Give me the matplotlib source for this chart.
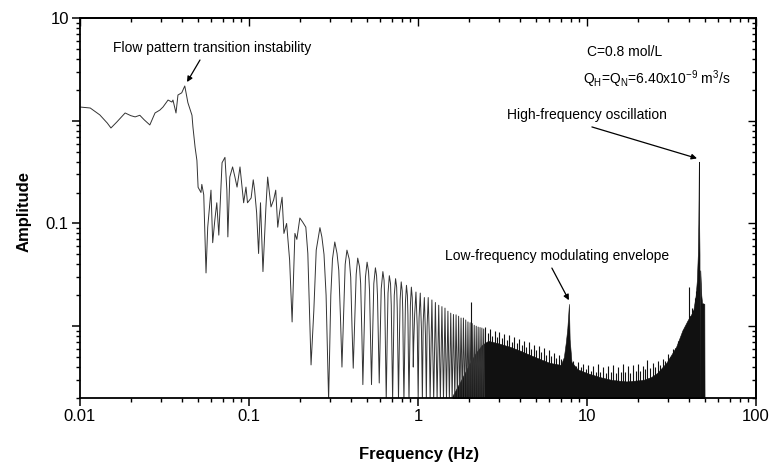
#!/usr/bin/env python3
"""Amplitude spectrum of the flow signal (log-log), Origin-style."""
import matplotlib
matplotlib.use("Agg")
import matplotlib.pyplot as plt
from matplotlib.ticker import NullFormatter, FixedFormatter, FixedLocator

# trace: low-frequency part (0.01 - 0.23 Hz)
low_freq = [
    0.0100, 0.0115, 0.0131, 0.0145, 0.01525, 0.0165, 0.0185, 0.0200, 0.0212, 0.0226,
    0.0240, 0.0259, 0.0278, 0.0297, 0.0310, 0.0332, 0.0350, 0.0355, 0.0370, 0.0380,
    0.0400, 0.0417, 0.0435, 0.0460, 0.0466, 0.0480, 0.0492, 0.0500, 0.0520, 0.0526,
    0.0540, 0.0557, 0.0570, 0.0596, 0.0610, 0.0628, 0.0645, 0.0663, 0.0693, 0.0721,
    0.0740, 0.0750, 0.0770, 0.0800, 0.0826, 0.0850, 0.0885, 0.0930, 0.0960, 0.0980,
    0.1030, 0.1060, 0.1080, 0.1110, 0.1140, 0.1170, 0.1210, 0.1260, 0.1290, 0.1350,
    0.1400, 0.1440, 0.1480, 0.1520, 0.1570, 0.1610, 0.1670, 0.1740, 0.1800, 0.1870,
    0.1920, 0.2000, 0.2080, 0.2170, 0.2230,
]
low_amp = [
    1.36, 1.33, 1.14, 0.95, 0.85, 0.97, 1.19, 1.12, 1.09, 1.13,
    1.02, 0.91, 1.19, 1.27, 1.36, 1.59, 1.52, 1.59, 1.19, 1.78,
    1.87, 2.18, 1.50, 1.13, 0.87, 0.55, 0.41, 0.225, 0.20, 0.24,
    0.19, 0.033, 0.092, 0.211, 0.065, 0.108, 0.159, 0.077, 0.39, 0.44,
    0.211, 0.074, 0.283, 0.355, 0.283, 0.226, 0.355, 0.159, 0.226, 0.159,
    0.177, 0.266, 0.211, 0.127, 0.051, 0.159, 0.034, 0.145, 0.283, 0.145,
    0.170, 0.211, 0.092, 0.130, 0.180, 0.080, 0.100, 0.044, 0.011, 0.080,
    0.070, 0.113, 0.103, 0.092, 0.051,
]

# resolved comb lobes (0.23 - 2.5 Hz), one lobe per row: dip, rise, peak, fall
lobe_freq = [
    0.233, 0.242, 0.250, 0.263, 0.270, 0.278, 0.286,
    0.296, 0.305, 0.312, 0.322, 0.332, 0.340, 0.348,
    0.355, 0.364, 0.371, 0.380, 0.392, 0.400, 0.407,
    0.414, 0.423, 0.431, 0.440, 0.451, 0.458, 0.466,
    0.472, 0.481, 0.489, 0.500, 0.510, 0.517, 0.525,
    0.531, 0.540, 0.548, 0.560, 0.569, 0.576, 0.584,
    0.590, 0.598, 0.606, 0.620, 0.630, 0.636, 0.643,
    0.649, 0.657, 0.665, 0.677, 0.688, 0.695, 0.702,
    0.708, 0.716, 0.724, 0.737, 0.748, 0.754, 0.761,
    0.767, 0.775, 0.784, 0.796, 0.807, 0.813, 0.820,
    0.826, 0.834, 0.843, 0.855, 0.866, 0.872, 0.879,
    0.885, 0.893, 0.902, 0.914, 0.925, 0.931, 0.938,
    0.944, 0.956, 0.973, 0.990,
    1.003, 1.015, 1.032, 1.049,
    1.062, 1.074, 1.091, 1.108,
    1.121, 1.133, 1.150, 1.167,
    1.180, 1.209, 1.239, 1.268, 1.298, 1.327, 1.357, 1.386, 1.416, 1.445,
    1.475, 1.504, 1.534, 1.563, 1.593, 1.622, 1.652, 1.681, 1.711, 1.740,
    1.770, 1.799, 1.829, 1.858, 1.888, 1.917, 1.947, 1.976, 2.006, 2.035,
    2.064, 2.094, 2.123, 2.153, 2.182, 2.212, 2.241, 2.271, 2.300, 2.330,
    2.359, 2.389, 2.418, 2.448, 2.477,
]
lobe_amp = [
    0.0042, 0.0142, 0.055, 0.091, 0.074, 0.050, 0.020,
    0.0019, 0.020, 0.045, 0.066, 0.051, 0.035, 0.012,
    0.0040, 0.015, 0.040, 0.055, 0.045, 0.030, 0.010,
    0.0039, 0.012, 0.032, 0.046, 0.038, 0.026, 0.008,
    0.0027, 0.010, 0.030, 0.042, 0.034, 0.022, 0.007,
    0.0027, 0.009, 0.026, 0.037, 0.031, 0.020, 0.006,
    0.0028, 0.008, 0.023, 0.034, 0.028, 0.018, 0.005,
    0.0019, 0.007, 0.021, 0.031, 0.026, 0.016, 0.005,
    0.0019, 0.006, 0.020, 0.029, 0.024, 0.015, 0.005,
    0.0019, 0.006, 0.018, 0.027, 0.022, 0.014, 0.004,
    0.0019, 0.005, 0.017, 0.025, 0.020, 0.013, 0.004,
    0.0019, 0.005, 0.016, 0.024, 0.019, 0.012, 0.004,
    0.0068, 0.013, 0.0215, 0.010,
    0.0019, 0.012, 0.021, 0.009,
    0.0019, 0.011, 0.019, 0.008,
    0.0019, 0.010, 0.019, 0.008,
    0.0019, 0.018, 0.0019, 0.017, 0.0019, 0.016, 0.0019, 0.0155, 0.0019, 0.015,
    0.0019, 0.014, 0.0019, 0.0134, 0.0019, 0.013, 0.0019, 0.0129, 0.0019, 0.0125,
    0.0019, 0.012, 0.0019, 0.012, 0.0019, 0.0115, 0.0019, 0.0110, 0.0019, 0.0108,
    0.0019, 0.0106, 0.0019, 0.0102, 0.0019, 0.0100, 0.0019, 0.0098, 0.0019, 0.0097,
    0.0019, 0.0096, 0.0019, 0.0094, 0.0019,
]

# solid black body of the unresolved part (1.6 - 50 Hz)
body_freq = [
    1.60, 1.80, 2.00, 2.20, 2.40, 2.60, 3.00, 3.50, 4.00, 4.80,
    6.00, 7.00, 7.30, 7.50, 7.65, 7.75, 7.82, 7.90, 8.10, 8.80,
    10.0, 11.9, 14.0, 17.1, 21.5, 24.0, 26.0, 29.5, 33.7, 36.7,
    39.5, 42.5, 44.0, 44.7, 45.3, 45.6, 45.8, 45.9, 46.0, 46.2,
    46.35, 46.45, 46.7, 46.85, 47.5, 48.0, 49.5, 49.7,
]
body_amp = [
    0.0021, 0.0030, 0.0042, 0.0055, 0.0066, 0.0072, 0.0068, 0.0063, 0.0058, 0.0051,
    0.0044, 0.0042, 0.0050, 0.0070, 0.0095, 0.0130, 0.0165, 0.0075, 0.0045, 0.0038,
    0.0035, 0.0032, 0.0030, 0.0029, 0.0030, 0.0032, 0.0035, 0.0044, 0.0063, 0.0091,
    0.0115, 0.0140, 0.0200, 0.0280, 0.0500, 0.1000, 0.2500, 0.4000, 0.2000, 0.0800,
    0.0500, 0.0010, 0.0010, 0.0350, 0.0200, 0.0168, 0.0165, 0.0010,
]

# thin spikes rising above the body
spike_freq = [
    2.05, 2.50, 2.58, 2.66, 2.75, 2.84, 2.93, 3.03, 3.13, 3.24,
    3.35, 3.46, 3.58, 3.70, 3.83, 3.96, 4.10, 4.24, 4.38, 4.53,
    4.69, 4.85, 5.02, 5.19, 5.37, 5.55, 5.74, 5.94, 6.14, 6.35,
    6.57, 6.80, 7.03, 8.30, 8.59, 8.88, 9.19, 9.50, 9.83, 10.2,
    10.5, 10.9, 11.3, 11.6, 12.0, 12.5, 12.9, 13.3, 13.8, 14.3,
    14.8, 15.3, 15.8, 16.3, 16.9, 17.5, 18.1, 18.7, 19.4, 20.0,
    20.7, 21.4, 22.2, 22.6, 23.7, 24.5, 25.4, 26.2, 27.1, 28.1,
    29.0, 30.0, 31.1, 32.1, 33.2, 34.4, 35.6, 36.8, 38.1, 39.4,
    40.1, 40.8, 41.7, 42.5, 43.3, 44.0,
]
spike_amp = [
    0.0173, 0.0098, 0.0085, 0.0094, 0.0080, 0.0090, 0.0078, 0.0088, 0.0076, 0.0084,
    0.0074, 0.0082, 0.0070, 0.0079, 0.0068, 0.0075, 0.0066, 0.0072, 0.0063, 0.0070,
    0.0060, 0.0066, 0.0058, 0.0064, 0.0056, 0.0061, 0.0053, 0.0058, 0.0051, 0.0055,
    0.0049, 0.0052, 0.0048, 0.0046, 0.0041, 0.0045, 0.0040, 0.0043, 0.0038, 0.0042,
    0.0037, 0.0041, 0.0036, 0.0043, 0.0036, 0.0040, 0.0035, 0.0041, 0.0036, 0.0042,
    0.0035, 0.0040, 0.0036, 0.0043, 0.0036, 0.0041, 0.0035, 0.0042, 0.0037, 0.0043,
    0.0037, 0.0041, 0.0038, 0.0047, 0.0039, 0.0044, 0.0040, 0.0046, 0.0042, 0.0048,
    0.0046, 0.0054, 0.0050, 0.0060, 0.0062, 0.0072, 0.0075, 0.0092, 0.0098, 0.0112,
    0.0240, 0.0125, 0.0150, 0.0145, 0.0190, 0.0220,
]

FLOOR = 0.001
X_MAJOR = [0.01, 0.1, 1, 10, 100]
X_LABELS = ["0.01", "0.1", "1", "10", "100"]
Y_MAJOR = [0.01, 0.1, 1, 10]
Y_LABELS = ["", "0.1", "", "10"]
X_MINOR = [m * 10.0 ** e for e in range(-2, 2) for m in range(2, 10)]
Y_MINOR = [m * 10.0 ** e for e in range(-3, 1) for m in range(2, 10)]

plt.rcParams["font.family"] = ["Liberation Sans", "DejaVu Sans"]
plt.rcParams["mathtext.fontset"] = "custom"
plt.rcParams["mathtext.rm"] = "Liberation Sans"


def main():
    fig = plt.figure(figsize=(7.72, 4.70), dpi=100)
    ax = fig.add_axes([0.1036, 0.1532, 0.8756, 0.8085])

    ax.fill_between(body_freq, FLOOR, body_amp, color="#111111", lw=0.4,
                    edgecolor="#111111")
    ax.vlines(spike_freq, FLOOR, spike_amp, color="#111111", lw=0.8)
    ax.plot(low_freq + lobe_freq, low_amp + lobe_amp, color="#333333", lw=0.7)

    ax.set_xscale("log")
    ax.set_yscale("log")
    ax.set_xlim(0.01, 100)
    ax.set_ylim(0.002, 10)

    ax.xaxis.set_major_locator(FixedLocator(X_MAJOR))
    ax.xaxis.set_major_formatter(FixedFormatter(X_LABELS))
    ax.xaxis.set_minor_locator(FixedLocator(X_MINOR))
    ax.xaxis.set_minor_formatter(NullFormatter())
    ax.yaxis.set_major_locator(FixedLocator(Y_MAJOR))
    ax.yaxis.set_major_formatter(FixedFormatter(Y_LABELS))
    ax.yaxis.set_minor_locator(FixedLocator(Y_MINOR))
    ax.yaxis.set_minor_formatter(NullFormatter())

    # bottom/left ticks point out, top/right ticks point in (Origin style)
    ax.tick_params(which="both", top=False, right=False)
    ax.tick_params(which="major", direction="out", length=6, width=1.1,
                   labelsize=12, pad=2)
    ax.tick_params(which="minor", direction="out", length=3, width=1.0)
    for s in ax.spines.values():
        s.set_linewidth(1.3)

    axt = ax.secondary_xaxis("top")
    axt.xaxis.set_major_locator(FixedLocator(X_MAJOR))
    axt.xaxis.set_minor_locator(FixedLocator(X_MINOR))
    axt.xaxis.set_major_formatter(NullFormatter())
    axt.xaxis.set_minor_formatter(NullFormatter())
    axt.tick_params(which="major", direction="in", length=6, width=1.0)
    axt.tick_params(which="minor", direction="in", length=3, width=1.0)
    axt.spines["top"].set_linewidth(1.3)

    axr = ax.secondary_yaxis("right")
    axr.yaxis.set_major_locator(FixedLocator(Y_MAJOR))
    axr.yaxis.set_minor_locator(FixedLocator(Y_MINOR))
    axr.yaxis.set_major_formatter(NullFormatter())
    axr.yaxis.set_minor_formatter(NullFormatter())
    axr.tick_params(which="major", direction="in", length=6, width=1.0)
    axr.tick_params(which="minor", direction="in", length=3, width=1.0)
    axr.spines["right"].set_linewidth(1.3)

    ax.set_xlabel("Frequency (Hz)", fontsize=12, fontweight="bold")
    ax.set_ylabel("Amplitude", fontsize=12, fontweight="bold")
    ax.xaxis.set_label_coords(0.501, -0.128)
    ax.yaxis.set_label_coords(-0.072, 0.49)

    arrow = dict(arrowstyle="-|>", color="black", lw=0.9, mutation_scale=8,
                 shrinkA=0, shrinkB=0)
    ax.annotate("", xy=(0.0430, 2.38), xytext=(0.0513, 3.9), arrowprops=arrow)
    ax.annotate("", xy=(44.8, 0.43), xytext=(10.7, 0.87), arrowprops=arrow)
    ax.annotate("", xy=(7.82, 0.0179), xytext=(6.2, 0.0368), arrowprops=arrow)

    ax.text(0.049, 0.921, "Flow pattern transition instability", transform=ax.transAxes,
            fontsize=10, ha="left", va="center")
    ax.text(0.632, 0.745, "High-frequency oscillation", transform=ax.transAxes,
            fontsize=10, ha="left", va="center")
    ax.text(0.54, 0.374, "Low-frequency modulating envelope", transform=ax.transAxes,
            fontsize=10, ha="left", va="center")
    ax.text(0.75, 0.911, "C=0.8 mol/L", transform=ax.transAxes,
            fontsize=10, ha="left", va="center")
    ax.text(0.744, 0.839,
            r"Q$_\mathregular{H}$=Q$_\mathregular{N}$=6.40x10$^\mathregular{-9}$"
            r" m$^\mathregular{3}$/s",
            transform=ax.transAxes, fontsize=10, ha="left", va="center")

    fig.savefig("out.png", dpi=100)


if __name__ == "__main__":
    main()
